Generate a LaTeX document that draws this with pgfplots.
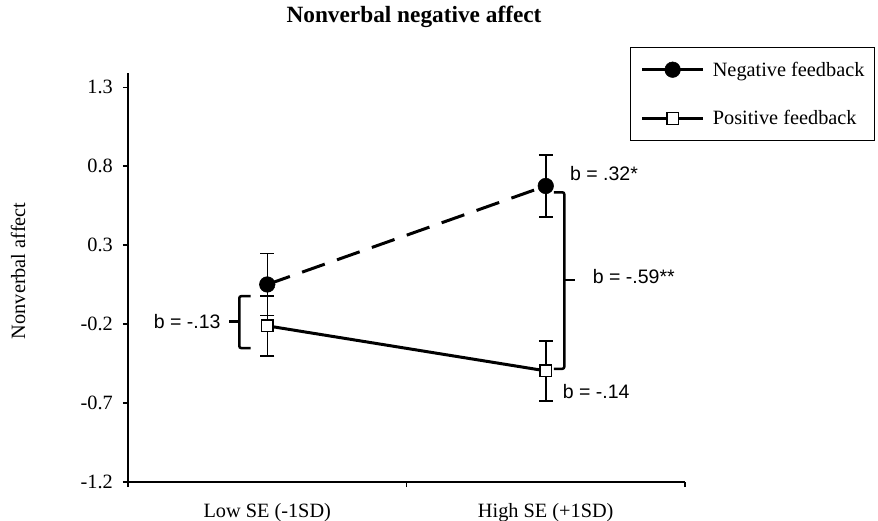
\documentclass[border=0pt]{standalone}
\usepackage{pgfplots}
\usepackage{pgfplotstable}
\pgfplotsset{compat=1.18}
\usepackage{fontspec}
\setmainfont{Liberation Serif}
\newfontfamily\arialfont{Liberation Sans}
\newcommand{\lblfont}{\fontsize{20.3bp}{24bp}\selectfont}
\newcommand{\annfont}{\arialfont\fontsize{19.5bp}{23bp}\selectfont}
\pgfplotstableread{
x y e
0 0.051 0.196
1 0.675 0.196
}\negtab
\pgfplotstableread{
x y e
0 -0.211 0.19
1 -0.496 0.19
}\postab
\begin{document}
\begin{tikzpicture}
\useasboundingbox (-128bp,-39bp) rectangle (750bp,482bp);
\begin{axis}[
  at={(0bp,0bp)}, anchor=south west,
  scale only axis, width=557bp, height=409bp,
  xmin=-0.5, xmax=1.5, ymin=-1.2, ymax=1.3905,
  clip=false,
  axis lines*=left,
  axis line style={line width=1.5bp, black},
  tick style={line width=1.5bp, black},
  tick align=outside,
  major tick length=5bp, minor tick length=5bp,
  xtick={0,1}, xticklabels={Low SE (-1SD), High SE (+1SD)},
  minor xtick={-0.5,0.5,1.5},
  major x tick style={draw=none},
  ytick={-1.2,-0.7,-0.2,0.3,0.8,1.3},
  yticklabels={-1.2,-0.7,-0.2,0.3,0.8,1.3},
  ticklabel style={font=\lblfont},
  yticklabel style={inner sep=0pt, xshift=-10bp},
  xticklabel style={anchor=base, inner sep=0pt, yshift=-30bp},
  legend style={at={(0.9013,1.0628)}, anchor=north west, draw=black, line width=1bp,
    fill=white, inner xsep=10bp, inner ysep=14bp, row sep=33bp, column sep=8bp,
    font=\lblfont, nodes={inner sep=0pt}},
  legend cell align=left,
  legend image code/.code={\draw[mark repeat=2, mark phase=2, solid] plot coordinates {(0bp,0bp) (30.6bp,0bp) (61.3bp,0bp)};},
]
\addplot[black, line width=3bp, dash pattern=on 24bp off 13bp,
  mark=*, mark size=7.8bp, mark options={solid, fill=black, line width=0.5bp},
  error bars/.cd, y dir=both, y explicit,
  error bar style={line width=1.5bp, solid, black},
  error mark options={rotate=90, mark size=7bp, line width=1.5bp, solid, black}]
  table[x=x, y=y, y error=e] {\negtab};
\addlegendentry{Negative feedback}
\addplot[black, line width=3bp, solid,
  mark=square*, mark size=5.8bp, mark options={solid, fill=white, draw=black, line width=1.5bp},
  error bars/.cd, y dir=both, y explicit,
  error bar style={line width=1.5bp, solid, black},
  error mark options={rotate=90, mark size=7bp, line width=1.5bp, solid, black}]
  table[x=x, y=y, y error=e] {\postab};
\addlegendentry{Positive feedback}
% brackets
\draw[line width=2.5bp, rounded corners=2bp] (axis cs:-0.0595,-0.0228) -- (axis cs:-0.1004,-0.0228) -- (axis cs:-0.1004,-0.352) -- (axis cs:-0.0595,-0.352);
\draw[line width=2.5bp] (axis cs:-0.1004,-0.183) -- (axis cs:-0.1373,-0.183);
\draw[line width=2.5bp, rounded corners=2bp] (axis cs:1.0296,0.635) -- (axis cs:1.0666,0.635) -- (axis cs:1.0666,-0.483) -- (axis cs:1.0296,-0.483);
\draw[line width=2.5bp] (axis cs:1.0666,0.0785) -- (axis cs:1.105,0.0785);
% annotations
\node[font=\annfont, anchor=east, inner sep=0pt] at (axis cs:-0.167,-0.181) {b = -.13};
\node[font=\annfont, anchor=west, inner sep=0pt] at (axis cs:1.087,0.754) {b = .32*};
\node[font=\annfont, anchor=west, inner sep=0pt] at (axis cs:1.1686,0.104) {b = -.59**};
\node[font=\annfont, anchor=west, inner sep=0pt] at (axis cs:1.0609,-0.628) {b = -.14};
\end{axis}
\node[font=\bfseries\fontsize{23.3bp}{28bp}\selectfont, anchor=base] at (286bp,459.3bp) {Nonverbal negative affect};
\node[font=\lblfont, rotate=90, anchor=center, inner sep=0pt] at (-110bp,211.2bp) {Nonverbal affect};
\end{tikzpicture}
\end{document}
